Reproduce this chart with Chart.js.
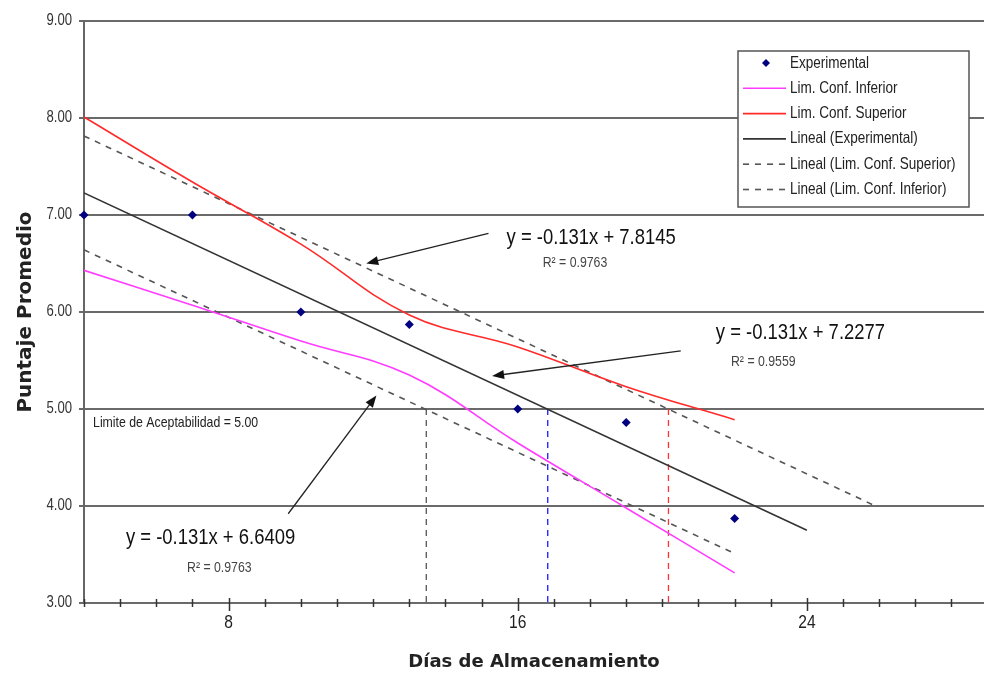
<!DOCTYPE html>
<html>
<head>
<meta charset="utf-8">
<script src="https://cdn.jsdelivr.net/npm/chart.js@4.4.1/dist/chart.umd.min.js"></script>
<style>
  html, body { margin: 0; padding: 0; background: #fff; overflow: hidden; }
  #wrap { width: 984px; height: 675px; }
</style>
</head>
<body>
<div id="wrap"><canvas id="chart" width="984" height="675"></canvas></div>
<script>
// valores
const dias = [4, 7, 10, 13, 16, 19, 22];
const experimental = [7.00, 7.00, 6.00, 5.87, 5.00, 4.86, 3.87];
const limInferior = [6.43, 6.07, 5.70, 5.35, 4.65, 3.98, 3.31];
const limSuperior = [8.01, 7.34, 6.70, 5.97, 5.64, 5.23, 4.89];

// líneas de tendencia (extremos)
const linealExpX = [4, 24];
const linealExpY = [7.2277, 3.75];
const linealSupX = [4, 25.9];
const linealSupY = [7.8145, 4.00];
const linealInfX = [4, 22];
const linealInfY = [6.6409, 3.51];

// días en que cada recta cruza el límite de aceptabilidad
const limiteAceptabilidad = 5.00;
const cortes = [13.47, 16.83, 20.17];

const xTickLabels = [8, 16, 24];
const yTickLabels = [3, 4, 5, 6, 7, 8, 9];
const ecuaciones = ['y = -0.131x + 7.8145', 'y = -0.131x + 7.2277', 'y = -0.131x + 6.6409'];
const r2 = ['R² = 0.9763', 'R² = 0.9559', 'R² = 0.9763'];

const SANS = '"Liberation Sans", Arial, sans-serif';
const BOLD = '"DejaVu Sans", Verdana, sans-serif';

// posiciones de las anotaciones en unidades del gráfico
const notas = [
  { i: 0, x: 15.69, y: 6.76, rx: 16.69, ry: 6.505 },
  { i: 1, x: 21.48, y: 5.79, rx: 21.90, ry: 5.485 },
  { i: 2, x: 5.16, y: 3.67, rx: 6.85, ry: 3.36 }
];
const flechas = [
  { desde: [15.19, 6.81], hasta: [11.81, 6.50] },
  { desde: [20.51, 5.60], hasta: [15.29, 5.34] },
  { desde: [9.65, 3.92], hasta: [12.09, 5.14] }
];

const pts = (xs, ys) => xs.map((x, i) => ({ x: x, y: ys[i] }));
const vertical = x => [{ x: x, y: limiteAceptabilidad }, { x: x, y: 3 }];

const legendOrder = ['Experimental', 'Lim. Conf. Inferior', 'Lim. Conf. Superior',
  'Lineal (Experimental)', 'Lineal (Lim. Conf. Superior)', 'Lineal (Lim. Conf. Inferior)'];

// texto estrecho tipo Arial Narrow
function narrowText(ctx, text, x, y, size, align) {
  ctx.save();
  ctx.font = size + 'px ' + SANS;
  ctx.translate(x, y);
  ctx.scale(0.82, 1);
  ctx.textAlign = align || 'left';
  ctx.textBaseline = 'middle';
  ctx.fillText(text, 0, 0);
  ctx.restore();
}

function flecha(ctx, x1, y1, x2, y2) {
  const ang = Math.atan2(y2 - y1, x2 - x1);
  const len = 12, w = 4.5;
  ctx.beginPath();
  ctx.moveTo(x1, y1);
  ctx.lineTo(x2 - Math.cos(ang) * len * 0.8, y2 - Math.sin(ang) * len * 0.8);
  ctx.stroke();
  ctx.beginPath();
  ctx.moveTo(x2, y2);
  ctx.lineTo(x2 - Math.cos(ang) * len - Math.sin(ang) * w, y2 - Math.sin(ang) * len + Math.cos(ang) * w);
  ctx.lineTo(x2 - Math.cos(ang) * len + Math.sin(ang) * w, y2 - Math.sin(ang) * len - Math.cos(ang) * w);
  ctx.closePath();
  ctx.fill();
}

const extras = {
  id: 'extras',
  afterDatasetsDraw(chart) {
    const ctx = chart.ctx;
    const xs = chart.scales.x, ys = chart.scales.y;
    const area = chart.chartArea;
    ctx.save();

    // marcas del eje X
    ctx.strokeStyle = '#333';
    ctx.lineWidth = 1.5;
    for (let d = Math.ceil(xs.min); d <= xs.max; d++) {
      const px = Math.round(xs.getPixelForValue(d)) + 0.5;
      const major = xTickLabels.includes(d);
      ctx.beginPath();
      ctx.moveTo(px, area.bottom - (major ? 5 : 4));
      ctx.lineTo(px, area.bottom + (major ? 8 : 4));
      ctx.stroke();
    }

    // etiquetas de los ejes
    ctx.fillStyle = '#333';
    yTickLabels.forEach(v => narrowText(ctx, v.toFixed(2), area.left - 12, ys.getPixelForValue(v), 16, 'right'));
    ctx.fillStyle = '#222';
    xTickLabels.forEach(v => narrowText(ctx, String(v), xs.getPixelForValue(v), area.bottom + 20, 19, 'center'));

    // títulos de ejes
    ctx.fillStyle = '#222';
    ctx.textAlign = 'center';
    ctx.textBaseline = 'middle';
    ctx.font = 'bold 18px ' + BOLD;
    ctx.fillText('Días de Almacenamiento', (area.left + area.right) / 2, 662);
    ctx.save();
    ctx.font = 'bold 20px ' + BOLD;
    ctx.translate(26, (area.top + area.bottom) / 2);
    ctx.rotate(-Math.PI / 2);
    ctx.fillText('Puntaje Promedio', 0, 0);
    ctx.restore();

    // ecuaciones
    notas.forEach(n => {
      ctx.fillStyle = '#111';
      narrowText(ctx, ecuaciones[n.i], xs.getPixelForValue(n.x), ys.getPixelForValue(n.y), 22.5);
      ctx.fillStyle = '#444';
      narrowText(ctx, r2[n.i], xs.getPixelForValue(n.rx), ys.getPixelForValue(n.ry), 15);
    });
    ctx.fillStyle = '#222';
    narrowText(ctx, 'Limite de Aceptabilidad = ' + limiteAceptabilidad.toFixed(2),
      xs.getPixelForValue(4.25), ys.getPixelForValue(4.856), 15);

    // flechas
    ctx.strokeStyle = '#222';
    ctx.fillStyle = '#111';
    ctx.lineWidth = 1.3;
    flechas.forEach(f => {
      flecha(ctx, xs.getPixelForValue(f.desde[0]), ys.getPixelForValue(f.desde[1]),
        xs.getPixelForValue(f.hasta[0]), ys.getPixelForValue(f.hasta[1]));
    });

    // leyenda
    const bx = area.right - 246, by = area.top + 30, bw = 231, bh = 156;
    ctx.fillStyle = '#fff';
    ctx.fillRect(bx, by, bw, bh);
    ctx.strokeStyle = '#555';
    ctx.lineWidth = 1.5;
    ctx.strokeRect(bx, by, bw, bh);
    legendOrder.forEach((label, i) => {
      const ds = chart.data.datasets.find(d => d.label === label);
      const ry = by + 12 + i * 25.3;
      if (ds.showLine === false) {
        ctx.fillStyle = ds.pointBackgroundColor;
        ctx.beginPath();
        ctx.moveTo(bx + 28, ry - 4);
        ctx.lineTo(bx + 32, ry);
        ctx.lineTo(bx + 28, ry + 4);
        ctx.lineTo(bx + 24, ry);
        ctx.closePath();
        ctx.fill();
      } else {
        ctx.strokeStyle = ds.borderColor;
        ctx.lineWidth = ds.borderWidth;
        ctx.setLineDash(ds.borderDash || []);
        ctx.beginPath();
        ctx.moveTo(bx + 5, ry);
        ctx.lineTo(bx + 48, ry);
        ctx.stroke();
        ctx.setLineDash([]);
      }
      ctx.fillStyle = '#222';
      narrowText(ctx, label, bx + 52, ry, 16.5);
    });
    ctx.restore();
  }
};

const ctx = document.getElementById('chart').getContext('2d');
const chart = new Chart(ctx, {
  type: 'scatter',
  data: {
    datasets: [
      {
        label: 'Experimental',
        data: pts(dias, experimental),
        showLine: false,
        clip: false,
        pointStyle: 'rectRot',
        pointRadius: 4.5,
        pointBackgroundColor: '#000080',
        pointBorderColor: '#000080',
        borderWidth: 0
      },
      {
        label: 'Lim. Conf. Inferior',
        data: pts(dias, limInferior),
        showLine: true,
        borderColor: '#ff3cff',
        borderWidth: 1.6,
        tension: 0.4,
        pointRadius: 0
      },
      {
        label: 'Lim. Conf. Superior',
        data: pts(dias, limSuperior),
        showLine: true,
        borderColor: '#ff2a2a',
        borderWidth: 1.6,
        tension: 0.4,
        pointRadius: 0
      },
      {
        label: 'Lineal (Experimental)',
        data: pts(linealExpX, linealExpY),
        showLine: true,
        borderColor: '#333',
        borderWidth: 1.6,
        pointRadius: 0
      },
      {
        label: 'Lineal (Lim. Conf. Superior)',
        data: pts(linealSupX, linealSupY),
        showLine: true,
        borderColor: '#555',
        borderWidth: 1.6,
        borderDash: [6, 6],
        pointRadius: 0
      },
      {
        label: 'Lineal (Lim. Conf. Inferior)',
        data: pts(linealInfX, linealInfY),
        showLine: true,
        borderColor: '#555',
        borderWidth: 1.6,
        borderDash: [6, 6],
        pointRadius: 0
      },
      {
        label: 'corte inferior',
        data: vertical(cortes[0]),
        showLine: true,
        borderColor: '#555',
        borderWidth: 1.3,
        borderDash: [6, 5],
        pointRadius: 0
      },
      {
        label: 'corte experimental',
        data: vertical(cortes[1]),
        showLine: true,
        borderColor: '#1a1aff',
        borderWidth: 1.3,
        borderDash: [6, 5],
        pointRadius: 0
      },
      {
        label: 'corte superior',
        data: vertical(cortes[2]),
        showLine: true,
        borderColor: '#ff3333',
        borderWidth: 1.3,
        borderDash: [6, 5],
        pointRadius: 0
      }
    ]
  },
  options: {
    responsive: false,
    animation: false,
    layout: { autoPadding: false, padding: { top: 21, right: 0, left: 0, bottom: 0 } },
    plugins: {
      legend: { display: false },
      tooltip: { enabled: false }
    },
    scales: {
      x: {
        type: 'linear',
        min: 4,
        max: 28.9,
        afterFit: scale => { scale.height = 72; scale.paddingLeft = 0; scale.paddingRight = 0; },
        grid: { display: false },
        border: { display: false },
        ticks: { display: false, stepSize: 1 }
      },
      y: {
        min: 3,
        max: 9,
        afterFit: scale => { scale.width = 84; scale.paddingTop = 0; scale.paddingBottom = 0; },
        grid: { color: '#6a6a6a', lineWidth: 2, tickLength: 5 },
        border: { display: true, color: '#666', width: 2 },
        ticks: { display: false, stepSize: 1 }
      }
    }
  },
  plugins: [extras]
});
</script>
</body>
</html>
